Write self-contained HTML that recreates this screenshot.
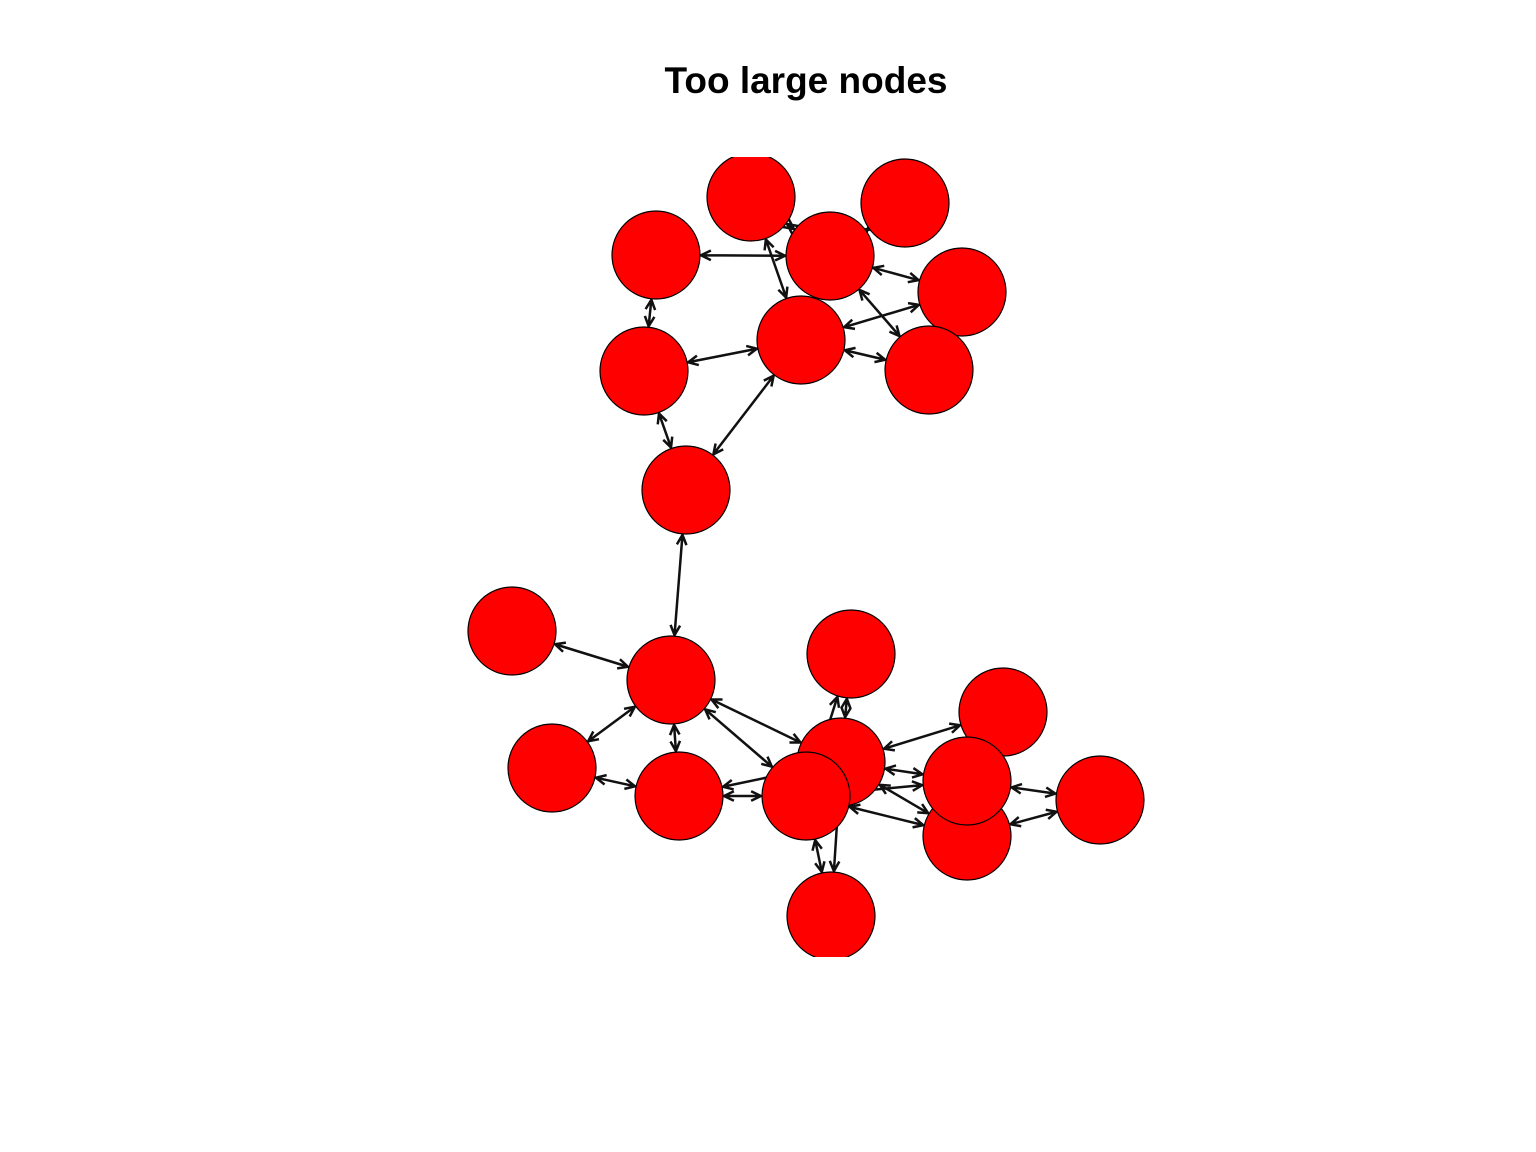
<!DOCTYPE html>
<html><head><meta charset="utf-8"><style>
html,body{margin:0;padding:0;background:#fff;}
svg{display:block;}
</style></head><body>
<svg id="chart" width="1536" height="1152" xmlns="http://www.w3.org/2000/svg">
<text x="806" y="93" text-anchor="middle" font-family="Liberation Sans, sans-serif" font-weight="bold" font-size="37" fill="#000">Too large nodes</text>
<defs><clipPath id="plotclip"><rect x="0" y="157" width="1536" height="800"/></clipPath></defs>
<g id="edges" clip-path="url(#plotclip)"></g>
<g id="nodes" clip-path="url(#plotclip)"></g>
</svg>
<script>
const nodeX = [751,905,656,830,962,801,644,929,686,512,671,851,1003,552,679,841,806,967,967,1100,831];
const nodeY = [197,203,255,256,292,340,371,370,490,631,680,654,712,768,796,762,796,836,781,800,916];
const edgeFrom = [2,0,0,1,3,3,5,5,2,6,6,5,8, 9,10,10,10,10,13,14,14,11,15,15,16,16,15,18,17,16,15,11];
const edgeTo   = [3,5,3,3,4,7,4,7,6,5,8,8,10,10,13,14,15,16,14,16,15,15,12,18,18,17,17,19,19,20,20,16];
const R = 44;
const NS = 'http://www.w3.org/2000/svg';
const eg = document.getElementById('edges');
const ng = document.getElementById('nodes');
function mk(tag, attrs){const e=document.createElementNS(NS,tag);for(const k in attrs)e.setAttribute(k,attrs[k]);return e;}
function arrow(px,py,ux,uy){
  const L=11,a=0.45;
  const ca=Math.cos(a),sa=Math.sin(a);
  const bx=-ux,by=-uy;
  const x1=px+L*(bx*ca-by*sa),y1=py+L*(bx*sa+by*ca);
  const x2=px+L*(bx*ca+by*sa),y2=py+L*(-bx*sa+by*ca);
  return 'M'+x1+','+y1+' L'+px+','+py+' L'+x2+','+y2;
}
for(let i=0;i<edgeFrom.length;i++){
  const a=edgeFrom[i],b=edgeTo[i];
  const dx=nodeX[b]-nodeX[a],dy=nodeY[b]-nodeY[a];
  const d=Math.hypot(dx,dy),ux=dx/d,uy=dy/d;
  const sx=nodeX[a]+ux*(R+1),sy=nodeY[a]+uy*(R+1);
  const ex=nodeX[b]-ux*(R+1),ey=nodeY[b]-uy*(R+1);
  const p=mk('path',{d:'M'+sx+','+sy+' L'+ex+','+ey+' '+arrow(ex,ey,ux,uy)+' '+arrow(sx,sy,-ux,-uy),stroke:'#111',fill:'none','stroke-width':2.5});
  
  
  eg.appendChild(p);
}
for(let i=0;i<nodeX.length;i++){
  const c=mk('circle',{cx:nodeX[i],cy:nodeY[i],r:R,fill:'#ff0000',stroke:'#000','stroke-width':1.2});
  
  
  ng.appendChild(c);
}
</script>
</body></html>
